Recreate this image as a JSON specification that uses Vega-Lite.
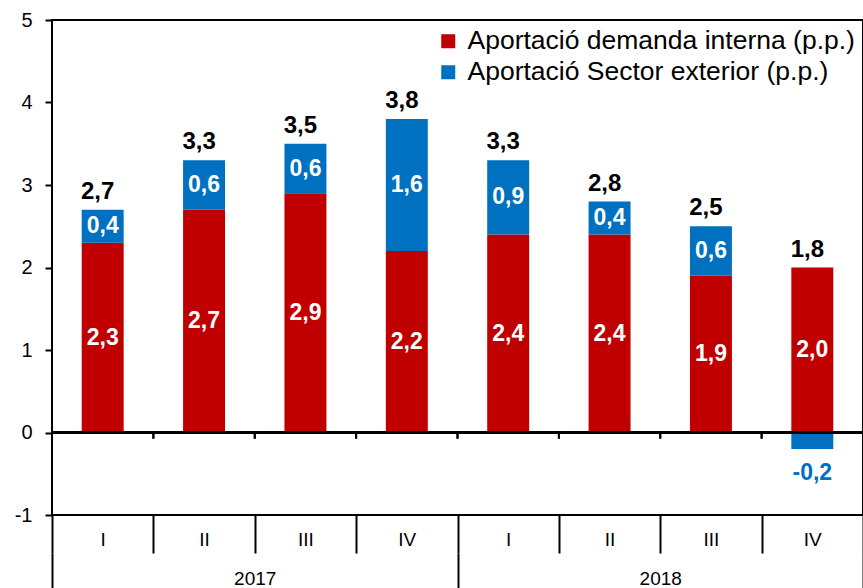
{
  "$schema": "https://vega.github.io/schema/vega-lite/v6.json",
  "width": 811,
  "height": 495,
  "autosize": "none",
  "padding": {"left": 52, "top": 20, "right": 0, "bottom": 73},
  "config": {
    "font": "Liberation Sans",
    "view": {"stroke": "black", "strokeWidth": 2},
    "locale": {"number": {"decimal": ",", "thousands": ".", "grouping": [3], "currency": ["", " €"], "minus": "-"}},
    "axis": {"labelColor": "black", "tickColor": "black", "domainColor": "black", "grid": false}
  },
  "data": {
    "values": [
      {"key": "2017-I", "year": "2017", "series": "Aportació demanda interna (p.p.)", "order": 1, "value": 2.3},
      {"key": "2017-I", "year": "2017", "series": "Aportació Sector exterior (p.p.)", "order": 2, "value": 0.4},
      {"key": "2017-II", "year": "2017", "series": "Aportació demanda interna (p.p.)", "order": 1, "value": 2.7},
      {"key": "2017-II", "year": "2017", "series": "Aportació Sector exterior (p.p.)", "order": 2, "value": 0.6},
      {"key": "2017-III", "year": "2017", "series": "Aportació demanda interna (p.p.)", "order": 1, "value": 2.9},
      {"key": "2017-III", "year": "2017", "series": "Aportació Sector exterior (p.p.)", "order": 2, "value": 0.6},
      {"key": "2017-IV", "year": "2017", "series": "Aportació demanda interna (p.p.)", "order": 1, "value": 2.2},
      {"key": "2017-IV", "year": "2017", "series": "Aportació Sector exterior (p.p.)", "order": 2, "value": 1.6},
      {"key": "2018-I", "year": "2018", "series": "Aportació demanda interna (p.p.)", "order": 1, "value": 2.4},
      {"key": "2018-I", "year": "2018", "series": "Aportació Sector exterior (p.p.)", "order": 2, "value": 0.9},
      {"key": "2018-II", "year": "2018", "series": "Aportació demanda interna (p.p.)", "order": 1, "value": 2.4},
      {"key": "2018-II", "year": "2018", "series": "Aportació Sector exterior (p.p.)", "order": 2, "value": 0.4},
      {"key": "2018-III", "year": "2018", "series": "Aportació demanda interna (p.p.)", "order": 1, "value": 1.9},
      {"key": "2018-III", "year": "2018", "series": "Aportació Sector exterior (p.p.)", "order": 2, "value": 0.6},
      {"key": "2018-IV", "year": "2018", "series": "Aportació demanda interna (p.p.)", "order": 1, "value": 2.0},
      {"key": "2018-IV", "year": "2018", "series": "Aportació Sector exterior (p.p.)", "order": 2, "value": -0.2}
    ]
  },
  "layer": [
    {
      "layer": [
        {
          "mark": {"type": "bar", "width": {"band": 0.414}},
          "encoding": {
            "x": {
              "field": "key", "type": "nominal", "title": null,
              "scale": {"domain": ["2017-I", "2017-II", "2017-III", "2017-IV", "2018-I", "2018-II", "2018-III", "2018-IV"], "paddingInner": 0, "paddingOuter": 0},
              "axis": {"orient": "bottom", "labelExpr": "split(datum.value, '-')[1]", "tickBand": "extent", "tickSize": 38, "tickWidth": 2, "domain": false, "labelPadding": -14, "labelBaseline": "middle", "labelFontSize": 19, "labelAngle": 0, "title": null}
            },
            "y": {
              "field": "value", "type": "quantitative", "stack": "zero", "title": null,
              "scale": {"domain": [-1, 5], "nice": false, "zero": false},
              "axis": {"values": [-1, 0, 1, 2, 3, 4, 5], "format": "d", "labelFontSize": 20, "tickSize": 7, "tickWidth": 2, "domain": false, "labelPadding": 13, "grid": false, "title": null}
            },
            "color": {
              "field": "series", "type": "nominal",
              "scale": {"domain": ["Aportació demanda interna (p.p.)", "Aportació Sector exterior (p.p.)"], "range": ["#C00000", "#0070C0"]},
              "legend": {"orient": "top-right", "offset": 8, "title": null, "labelFontSize": 26.5, "labelLimit": 600, "symbolType": "square", "symbolSize": 196, "symbolStrokeWidth": 0, "labelColor": "black", "rowPadding": 4, "labelOffset": 6, "padding": 0}
            },
            "order": {"field": "order", "type": "quantitative"}
          }
        },
        {
          "transform": [
            {"filter": "datum.value > 0"},
            {"stack": "value", "groupby": ["key"], "sort": [{"field": "order", "order": "ascending"}], "as": ["v0", "v1"]},
            {"fold": ["v0", "v1"], "as": ["edge", "pos"]}
          ],
          "mark": {"type": "text", "color": "white", "fontWeight": "bold", "fontSize": 23, "baseline": "middle", "align": "center"},
          "encoding": {
            "x": {"field": "key", "type": "nominal", "title": null},
            "y": {"field": "pos", "type": "quantitative", "aggregate": "mean", "stack": null, "title": null},
            "detail": {"field": "series", "type": "nominal"},
            "text": {"field": "value", "type": "quantitative", "aggregate": "mean", "format": ".1f"}
          }
        },
        {
          "transform": [{"filter": "datum.value < 0"}],
          "mark": {"type": "text", "color": "#0070C0", "fontWeight": "bold", "fontSize": 23, "baseline": "middle", "align": "center", "dy": 24},
          "encoding": {
            "x": {"field": "key", "type": "nominal", "title": null},
            "y": {"field": "value", "type": "quantitative", "stack": null, "title": null},
            "text": {"field": "value", "type": "quantitative", "format": ".1f"}
          }
        },
        {
          "transform": [
            {"stack": "value", "groupby": ["key"], "sort": [{"field": "order", "order": "ascending"}], "as": ["v0", "v1"]},
            {"aggregate": [{"op": "max", "field": "v1", "as": "top"}, {"op": "sum", "field": "value", "as": "total"}], "groupby": ["key"]}
          ],
          "mark": {"type": "text", "color": "black", "fontWeight": "bold", "fontSize": 24, "baseline": "alphabetic", "align": "center", "dy": -11, "dx": -5},
          "encoding": {
            "x": {"field": "key", "type": "nominal", "title": null},
            "y": {"field": "top", "type": "quantitative", "stack": null, "title": null},
            "text": {"field": "total", "type": "quantitative", "format": ".1f"}
          }
        },
        {
          "mark": {"type": "rule", "color": "black", "strokeWidth": 2},
          "encoding": {"y": {"datum": 0}}
        },
        {
          "mark": {"type": "rule", "color": "black", "strokeWidth": 2},
          "encoding": {
            "x": {"field": "key", "type": "nominal", "bandPosition": 0, "title": null},
            "y": {"datum": 0},
            "y2": {"datum": -0.075}
          }
        }
      ]
    },
    {
      "mark": {"type": "point", "opacity": 0},
      "encoding": {
        "x": {
          "field": "year", "type": "nominal", "title": null,
          "scale": {"type": "band", "paddingInner": 0, "paddingOuter": 0},
          "axis": {"orient": "bottom", "offset": 38, "tickBand": "extent", "tickSize": 35, "tickWidth": 2, "domain": false, "labelPadding": -10, "labelBaseline": "middle", "labelFontSize": 19, "labelAngle": 0, "title": null}
        },
        "y": {"datum": 0}
      }
    }
  ],
  "resolve": {"scale": {"x": "independent"}}
}
